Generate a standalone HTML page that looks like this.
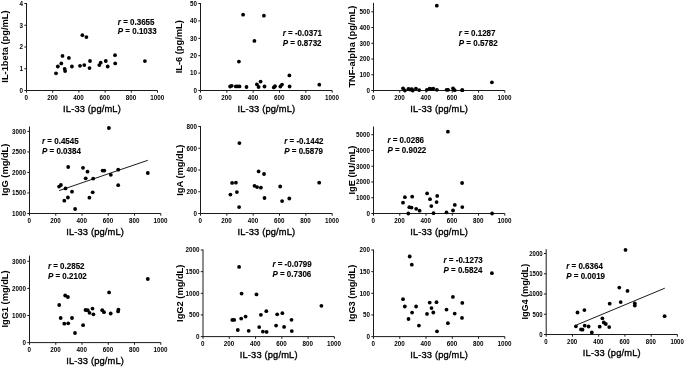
<!DOCTYPE html>
<html><head><meta charset="utf-8"><title>Correlation plots</title>
<style>
html,body{margin:0;padding:0;background:#fff;width:685px;height:367px;overflow:hidden}
svg{display:block;will-change:transform}
text{font-family:"Liberation Sans",sans-serif;fill:#000}
.ax{fill:none;stroke:#1a1a1a;stroke-width:1}
.tk{fill:none;stroke:#1a1a1a;stroke-width:1}
.rl{fill:none;stroke:#000;stroke-width:0.9}
.yt{font-size:6.3px;font-weight:bold;text-anchor:end}
.xt{font-size:6.3px;font-weight:bold;text-anchor:middle}
.xl{font-size:9.3px;text-anchor:middle;stroke:#000;stroke-width:0.35px;letter-spacing:0.16px}
.yl{font-size:9.3px;font-weight:bold;text-anchor:middle}
.an{font-size:8.0px;font-weight:bold;stroke:#000;stroke-width:0.12px}
.it{font-style:italic}
.pt{fill:#000}
</style></head>
<body><svg width="685" height="367" viewBox="0 0 685 367">
<path d="M26.5 3V90.5H157.5" class="ax"/>
<text transform="translate(22.9 92.85) scale(1 1.04)" class="yt">0</text>
<text transform="translate(22.9 71.1) scale(1 1.04)" class="yt">1</text>
<text transform="translate(22.9 49.35) scale(1 1.04)" class="yt">2</text>
<text transform="translate(22.9 27.6) scale(1 1.04)" class="yt">3</text>
<text transform="translate(22.9 5.85) scale(1 1.04)" class="yt">4</text>
<text transform="translate(26.2 99.9) scale(1 1.04)" class="xt">0</text>
<text transform="translate(52.4 99.9) scale(1 1.04)" class="xt">200</text>
<text transform="translate(78.6 99.9) scale(1 1.04)" class="xt">400</text>
<text transform="translate(104.8 99.9) scale(1 1.04)" class="xt">600</text>
<text transform="translate(131 99.9) scale(1 1.04)" class="xt">800</text>
<text transform="translate(157.2 99.9) scale(1 1.04)" class="xt">1000</text>
<path d="M24.3 90.5H26.5M24.3 68.75H26.5M24.3 47H26.5M24.3 25.25H26.5M24.3 3.5H26.5M26.5 90.5V92.7M52.7 90.5V92.7M78.9 90.5V92.7M105.1 90.5V92.7M131.3 90.5V92.7M157.5 90.5V92.7" class="tk"/>
<text transform="translate(92 111.9) scale(1 1.03)" class="xl">IL-33 (pg/mL)</text>
<text transform="translate(7.8 46.6) rotate(-90) scale(1 1.04)" class="yl">IL-1beta (pg/mL)</text>
<text transform="translate(117.8 25) scale(1 1.08)" class="an"><tspan class="it">r</tspan> = 0.3655</text>
<text transform="translate(117.8 34) scale(1 1.08)" class="an"><tspan class="it">P</tspan> = 0.1033</text>
<g class="pt"><circle cx="56" cy="73.3" r="1.9"/><circle cx="57.8" cy="66.5" r="1.9"/><circle cx="61.3" cy="63.4" r="1.9"/><circle cx="62.5" cy="55.9" r="1.9"/><circle cx="64.7" cy="68.8" r="1.9"/><circle cx="65.1" cy="71.1" r="1.9"/><circle cx="68.9" cy="57.9" r="1.9"/><circle cx="71.9" cy="66.5" r="1.9"/><circle cx="80" cy="65.8" r="1.9"/><circle cx="82.4" cy="35.2" r="1.9"/><circle cx="84.3" cy="65.1" r="1.9"/><circle cx="86.4" cy="37.1" r="1.9"/><circle cx="89.5" cy="68.1" r="1.9"/><circle cx="90" cy="61" r="1.9"/><circle cx="99.3" cy="65.1" r="1.9"/><circle cx="100.7" cy="62.7" r="1.9"/><circle cx="105.8" cy="61" r="1.9"/><circle cx="107.7" cy="66.5" r="1.9"/><circle cx="115" cy="55.2" r="1.9"/><circle cx="115.2" cy="63.4" r="1.9"/><circle cx="144.9" cy="61.1" r="1.9"/></g>
<path d="M200.5 3V90.5H332.2" class="ax"/>
<text transform="translate(196.9 92.85) scale(1 1.04)" class="yt">0</text>
<text transform="translate(196.9 75.45) scale(1 1.04)" class="yt">10</text>
<text transform="translate(196.9 58.05) scale(1 1.04)" class="yt">20</text>
<text transform="translate(196.9 40.65) scale(1 1.04)" class="yt">30</text>
<text transform="translate(196.9 23.25) scale(1 1.04)" class="yt">40</text>
<text transform="translate(196.9 5.85) scale(1 1.04)" class="yt">50</text>
<text transform="translate(200.2 99.9) scale(1 1.04)" class="xt">0</text>
<text transform="translate(226.54 99.9) scale(1 1.04)" class="xt">200</text>
<text transform="translate(252.88 99.9) scale(1 1.04)" class="xt">400</text>
<text transform="translate(279.22 99.9) scale(1 1.04)" class="xt">600</text>
<text transform="translate(305.56 99.9) scale(1 1.04)" class="xt">800</text>
<text transform="translate(331.9 99.9) scale(1 1.04)" class="xt">1000</text>
<path d="M198.3 90.5H200.5M198.3 73.1H200.5M198.3 55.7H200.5M198.3 38.3H200.5M198.3 20.9H200.5M198.3 3.5H200.5M200.5 90.5V92.7M226.84 90.5V92.7M253.18 90.5V92.7M279.52 90.5V92.7M305.86 90.5V92.7M332.2 90.5V92.7" class="tk"/>
<text transform="translate(266.35 111.9) scale(1 1.03)" class="xl">IL-33 (pg/mL)</text>
<text transform="translate(182.4 46.8) rotate(-90) scale(1 1.04)" class="yl">IL-6 (pg/mL)</text>
<text transform="translate(282.7 36) scale(1 1.08)" class="an"><tspan class="it">r</tspan> = -0.0371</text>
<text transform="translate(282.7 46) scale(1 1.08)" class="an"><tspan class="it">P</tspan> = 0.8732</text>
<g class="pt"><circle cx="230.1" cy="86.5" r="1.9"/><circle cx="231.7" cy="85.8" r="1.9"/><circle cx="235.8" cy="86.4" r="1.9"/><circle cx="237.6" cy="86.4" r="1.9"/><circle cx="239.5" cy="86.4" r="1.9"/><circle cx="238.9" cy="61.6" r="1.9"/><circle cx="243.1" cy="14.7" r="1.9"/><circle cx="246.5" cy="87" r="1.9"/><circle cx="254.4" cy="40.9" r="1.9"/><circle cx="256.9" cy="84.3" r="1.9"/><circle cx="258.6" cy="87" r="1.9"/><circle cx="260.6" cy="81.6" r="1.9"/><circle cx="263.9" cy="15.7" r="1.9"/><circle cx="264.5" cy="86.5" r="1.9"/><circle cx="273.8" cy="87.4" r="1.9"/><circle cx="275" cy="86.2" r="1.9"/><circle cx="280.4" cy="86.5" r="1.9"/><circle cx="282" cy="84.6" r="1.9"/><circle cx="289.4" cy="75.4" r="1.9"/><circle cx="289.6" cy="86.5" r="1.9"/><circle cx="319.3" cy="84.7" r="1.9"/></g>
<path d="M373.5 2.9V90.5H504.8" class="ax"/>
<text transform="translate(369.9 92.85) scale(1 1.04)" class="yt">0</text>
<text transform="translate(369.9 77.11) scale(1 1.04)" class="yt">100</text>
<text transform="translate(369.9 61.37) scale(1 1.04)" class="yt">200</text>
<text transform="translate(369.9 45.63) scale(1 1.04)" class="yt">300</text>
<text transform="translate(369.9 29.89) scale(1 1.04)" class="yt">400</text>
<text transform="translate(369.9 14.15) scale(1 1.04)" class="yt">500</text>
<text transform="translate(373.2 99.9) scale(1 1.04)" class="xt">0</text>
<text transform="translate(399.46 99.9) scale(1 1.04)" class="xt">200</text>
<text transform="translate(425.72 99.9) scale(1 1.04)" class="xt">400</text>
<text transform="translate(451.98 99.9) scale(1 1.04)" class="xt">600</text>
<text transform="translate(478.24 99.9) scale(1 1.04)" class="xt">800</text>
<text transform="translate(504.5 99.9) scale(1 1.04)" class="xt">1000</text>
<path d="M371.3 90.5H373.5M371.3 74.76H373.5M371.3 59.02H373.5M371.3 43.28H373.5M371.3 27.54H373.5M371.3 11.8H373.5M373.5 90.5V92.7M399.76 90.5V92.7M426.02 90.5V92.7M452.28 90.5V92.7M478.54 90.5V92.7M504.8 90.5V92.7" class="tk"/>
<text transform="translate(439.15 111.9) scale(1 1.03)" class="xl">IL-33 (pg/mL)</text>
<text transform="translate(355.2 46.6) rotate(-90) scale(1 1.04)" class="yl">TNF-alpha (pg/mL)</text>
<text transform="translate(458.8 36) scale(1 1.08)" class="an"><tspan class="it">r</tspan> = 0.1287</text>
<text transform="translate(458.8 46) scale(1 1.08)" class="an"><tspan class="it">P</tspan> = 0.5782</text>
<g class="pt"><circle cx="403" cy="88.3" r="1.9"/><circle cx="404.9" cy="90.5" r="1.9"/><circle cx="408.4" cy="88.9" r="1.9"/><circle cx="410" cy="89.5" r="1.9"/><circle cx="411.9" cy="89.2" r="1.9"/><circle cx="412.7" cy="90.5" r="1.9"/><circle cx="415.9" cy="88.6" r="1.9"/><circle cx="419.2" cy="90.1" r="1.9"/><circle cx="426.9" cy="89.8" r="1.9"/><circle cx="429.6" cy="88.6" r="1.9"/><circle cx="431.4" cy="89.2" r="1.9"/><circle cx="433.3" cy="88.6" r="1.9"/><circle cx="436.8" cy="5.7" r="1.9"/><circle cx="436.9" cy="89.8" r="1.9"/><circle cx="446.6" cy="89.8" r="1.9"/><circle cx="448.1" cy="89.8" r="1.9"/><circle cx="453" cy="88.3" r="1.9"/><circle cx="454.7" cy="90.2" r="1.9"/><circle cx="462.1" cy="90.2" r="1.9"/><circle cx="462.4" cy="90.2" r="1.9"/><circle cx="491.9" cy="82.3" r="1.9"/></g>
<path d="M29.5 126.5V213.5H160.8" class="ax"/>
<text transform="translate(25.9 215.85) scale(1 1.04)" class="yt">1000</text>
<text transform="translate(25.9 195.32) scale(1 1.04)" class="yt">1500</text>
<text transform="translate(25.9 174.8) scale(1 1.04)" class="yt">2000</text>
<text transform="translate(25.9 154.28) scale(1 1.04)" class="yt">2500</text>
<text transform="translate(25.9 133.75) scale(1 1.04)" class="yt">3000</text>
<text transform="translate(29.2 222.9) scale(1 1.04)" class="xt">0</text>
<text transform="translate(55.46 222.9) scale(1 1.04)" class="xt">200</text>
<text transform="translate(81.72 222.9) scale(1 1.04)" class="xt">400</text>
<text transform="translate(107.98 222.9) scale(1 1.04)" class="xt">600</text>
<text transform="translate(134.24 222.9) scale(1 1.04)" class="xt">800</text>
<text transform="translate(160.5 222.9) scale(1 1.04)" class="xt">1000</text>
<path d="M27.3 213.5H29.5M27.3 192.97H29.5M27.3 172.45H29.5M27.3 151.93H29.5M27.3 131.4H29.5M29.5 213.5V215.7M55.76 213.5V215.7M82.02 213.5V215.7M108.28 213.5V215.7M134.54 213.5V215.7M160.8 213.5V215.7" class="tk"/>
<text transform="translate(95.15 234.9) scale(1 1.03)" class="xl">IL-33 (pg/mL)</text>
<text transform="translate(7.7 169.7) rotate(-90) scale(1 1.04)" class="yl">IgG (mg/dL)</text>
<text transform="translate(42 144) scale(1 1.08)" class="an"><tspan class="it">r</tspan> = 0.4545</text>
<text transform="translate(42 154) scale(1 1.08)" class="an"><tspan class="it">P</tspan> = 0.0384</text>
<path d="M59.2 190.6L147.8 160.3" class="rl"/>
<g class="pt"><circle cx="59.1" cy="186.6" r="1.9"/><circle cx="60.9" cy="185" r="1.9"/><circle cx="64.3" cy="200.7" r="1.9"/><circle cx="65.5" cy="188.4" r="1.9"/><circle cx="67.9" cy="197.5" r="1.9"/><circle cx="68.2" cy="167" r="1.9"/><circle cx="72" cy="191.7" r="1.9"/><circle cx="75.1" cy="209" r="1.9"/><circle cx="83" cy="167.8" r="1.9"/><circle cx="85.7" cy="178.3" r="1.9"/><circle cx="87.5" cy="171.7" r="1.9"/><circle cx="89.4" cy="197.7" r="1.9"/><circle cx="92.7" cy="192.3" r="1.9"/><circle cx="93.2" cy="178.6" r="1.9"/><circle cx="102.6" cy="170.6" r="1.9"/><circle cx="104.3" cy="170.6" r="1.9"/><circle cx="108.9" cy="128" r="1.9"/><circle cx="110.8" cy="174.8" r="1.9"/><circle cx="118.2" cy="169.7" r="1.9"/><circle cx="118.2" cy="185.2" r="1.9"/><circle cx="147.8" cy="173" r="1.9"/></g>
<path d="M200.5 126V213.5H332.2" class="ax"/>
<text transform="translate(196.9 215.85) scale(1 1.04)" class="yt">0</text>
<text transform="translate(196.9 194.1) scale(1 1.04)" class="yt">200</text>
<text transform="translate(196.9 172.35) scale(1 1.04)" class="yt">400</text>
<text transform="translate(196.9 150.6) scale(1 1.04)" class="yt">600</text>
<text transform="translate(196.9 128.85) scale(1 1.04)" class="yt">800</text>
<text transform="translate(200.2 222.9) scale(1 1.04)" class="xt">0</text>
<text transform="translate(226.54 222.9) scale(1 1.04)" class="xt">200</text>
<text transform="translate(252.88 222.9) scale(1 1.04)" class="xt">400</text>
<text transform="translate(279.22 222.9) scale(1 1.04)" class="xt">600</text>
<text transform="translate(305.56 222.9) scale(1 1.04)" class="xt">800</text>
<text transform="translate(331.9 222.9) scale(1 1.04)" class="xt">1000</text>
<path d="M198.3 213.5H200.5M198.3 191.75H200.5M198.3 170H200.5M198.3 148.25H200.5M198.3 126.5H200.5M200.5 213.5V215.7M226.84 213.5V215.7M253.18 213.5V215.7M279.52 213.5V215.7M305.86 213.5V215.7M332.2 213.5V215.7" class="tk"/>
<text transform="translate(266.35 234.9) scale(1 1.03)" class="xl">IL-33 (pg/mL)</text>
<text transform="translate(182.5 170.2) rotate(-90) scale(1 1.04)" class="yl">IgA (mg/dL)</text>
<text transform="translate(284.2 144) scale(1 1.08)" class="an"><tspan class="it">r</tspan> = -0.1442</text>
<text transform="translate(284.2 154) scale(1 1.08)" class="an"><tspan class="it">P</tspan> = 0.5879</text>
<g class="pt"><circle cx="230.4" cy="194.6" r="1.9"/><circle cx="232.1" cy="182.9" r="1.9"/><circle cx="235.9" cy="182.7" r="1.9"/><circle cx="236.9" cy="192.1" r="1.9"/><circle cx="239.1" cy="207.1" r="1.9"/><circle cx="239.4" cy="143.1" r="1.9"/><circle cx="254.5" cy="185.8" r="1.9"/><circle cx="257.1" cy="187.1" r="1.9"/><circle cx="258.6" cy="171.4" r="1.9"/><circle cx="260.9" cy="187.7" r="1.9"/><circle cx="264" cy="174" r="1.9"/><circle cx="264.5" cy="198" r="1.9"/><circle cx="280.2" cy="186.5" r="1.9"/><circle cx="282.1" cy="201.1" r="1.9"/><circle cx="289.3" cy="198.5" r="1.9"/><circle cx="319.2" cy="182.7" r="1.9"/></g>
<path d="M373.5 126.5V213.5H504.8" class="ax"/>
<text transform="translate(369.9 215.85) scale(1 1.04)" class="yt">0</text>
<text transform="translate(369.9 200.09) scale(1 1.04)" class="yt">1000</text>
<text transform="translate(369.9 184.33) scale(1 1.04)" class="yt">2000</text>
<text transform="translate(369.9 168.57) scale(1 1.04)" class="yt">3000</text>
<text transform="translate(369.9 152.81) scale(1 1.04)" class="yt">4000</text>
<text transform="translate(369.9 137.05) scale(1 1.04)" class="yt">5000</text>
<text transform="translate(373.2 222.9) scale(1 1.04)" class="xt">0</text>
<text transform="translate(399.46 222.9) scale(1 1.04)" class="xt">200</text>
<text transform="translate(425.72 222.9) scale(1 1.04)" class="xt">400</text>
<text transform="translate(451.98 222.9) scale(1 1.04)" class="xt">600</text>
<text transform="translate(478.24 222.9) scale(1 1.04)" class="xt">800</text>
<text transform="translate(504.5 222.9) scale(1 1.04)" class="xt">1000</text>
<path d="M371.3 213.5H373.5M371.3 197.74H373.5M371.3 181.98H373.5M371.3 166.22H373.5M371.3 150.46H373.5M371.3 134.7H373.5M373.5 213.5V215.7M399.76 213.5V215.7M426.02 213.5V215.7M452.28 213.5V215.7M478.54 213.5V215.7M504.8 213.5V215.7" class="tk"/>
<text transform="translate(439.15 234.9) scale(1 1.03)" class="xl">IL-33 (pg/mL)</text>
<text transform="translate(354.8 170.1) rotate(-90) scale(1 1.04)" class="yl">IgE (IU/mL)</text>
<text transform="translate(387.4 143) scale(1 1.08)" class="an"><tspan class="it">r</tspan> = 0.0286</text>
<text transform="translate(387.4 153) scale(1 1.08)" class="an"><tspan class="it">P</tspan> = 0.9022</text>
<g class="pt"><circle cx="403" cy="202.7" r="1.9"/><circle cx="404.9" cy="197.2" r="1.9"/><circle cx="408.3" cy="213.5" r="1.9"/><circle cx="409.3" cy="207.2" r="1.9"/><circle cx="411.5" cy="207.6" r="1.9"/><circle cx="412.2" cy="196.7" r="1.9"/><circle cx="416.2" cy="208.8" r="1.9"/><circle cx="419.6" cy="210.7" r="1.9"/><circle cx="427.1" cy="193.4" r="1.9"/><circle cx="430" cy="199.2" r="1.9"/><circle cx="431.3" cy="206.1" r="1.9"/><circle cx="433.5" cy="213.2" r="1.9"/><circle cx="436.6" cy="202.1" r="1.9"/><circle cx="437.2" cy="195.9" r="1.9"/><circle cx="446.5" cy="212.4" r="1.9"/><circle cx="447.9" cy="131.7" r="1.9"/><circle cx="453" cy="210.5" r="1.9"/><circle cx="454.8" cy="204.9" r="1.9"/><circle cx="462.1" cy="183" r="1.9"/><circle cx="462.3" cy="207.1" r="1.9"/><circle cx="492.1" cy="213.5" r="1.9"/></g>
<path d="M29.5 255.6V342.6H160.8" class="ax"/>
<text transform="translate(25.9 344.95) scale(1 1.04)" class="yt">0</text>
<text transform="translate(25.9 317.85) scale(1 1.04)" class="yt">1000</text>
<text transform="translate(25.9 290.75) scale(1 1.04)" class="yt">2000</text>
<text transform="translate(25.9 263.65) scale(1 1.04)" class="yt">3000</text>
<text transform="translate(29.2 352) scale(1 1.04)" class="xt">0</text>
<text transform="translate(55.46 352) scale(1 1.04)" class="xt">200</text>
<text transform="translate(81.72 352) scale(1 1.04)" class="xt">400</text>
<text transform="translate(107.98 352) scale(1 1.04)" class="xt">600</text>
<text transform="translate(134.24 352) scale(1 1.04)" class="xt">800</text>
<text transform="translate(160.5 352) scale(1 1.04)" class="xt">1000</text>
<path d="M27.3 342.6H29.5M27.3 315.5H29.5M27.3 288.4H29.5M27.3 261.3H29.5M29.5 342.6V344.8M55.76 342.6V344.8M82.02 342.6V344.8M108.28 342.6V344.8M134.54 342.6V344.8M160.8 342.6V344.8" class="tk"/>
<text transform="translate(95.15 364) scale(1 1.03)" class="xl">IL-33 (pg/mL)</text>
<text transform="translate(8 299) rotate(-90) scale(1 1.04)" class="yl">IgG1 (mg/dL)</text>
<text transform="translate(47.9 269) scale(1 1.08)" class="an"><tspan class="it">r</tspan> = 0.2852</text>
<text transform="translate(47.9 279) scale(1 1.08)" class="an"><tspan class="it">P</tspan> = 0.2102</text>
<g class="pt"><circle cx="59.2" cy="305" r="1.9"/><circle cx="60.7" cy="318" r="1.9"/><circle cx="64.3" cy="323.7" r="1.9"/><circle cx="65.2" cy="295.5" r="1.9"/><circle cx="67.9" cy="297" r="1.9"/><circle cx="68.2" cy="323.3" r="1.9"/><circle cx="72" cy="318" r="1.9"/><circle cx="75" cy="333" r="1.9"/><circle cx="83.1" cy="325.2" r="1.9"/><circle cx="85.5" cy="310" r="1.9"/><circle cx="87.7" cy="310.2" r="1.9"/><circle cx="89.5" cy="312.8" r="1.9"/><circle cx="92.5" cy="308.6" r="1.9"/><circle cx="93.4" cy="314.3" r="1.9"/><circle cx="102.2" cy="310.2" r="1.9"/><circle cx="104" cy="312.2" r="1.9"/><circle cx="109.1" cy="292.4" r="1.9"/><circle cx="110.7" cy="313.5" r="1.9"/><circle cx="118.1" cy="311.4" r="1.9"/><circle cx="118.4" cy="309.6" r="1.9"/><circle cx="147.8" cy="279" r="1.9"/></g>
<path d="M203 249.5V336.6H334.4" class="ax"/>
<text transform="translate(199.4 338.95) scale(1 1.04)" class="yt">0</text>
<text transform="translate(199.4 317.3) scale(1 1.04)" class="yt">500</text>
<text transform="translate(199.4 295.65) scale(1 1.04)" class="yt">1000</text>
<text transform="translate(199.4 274) scale(1 1.04)" class="yt">1500</text>
<text transform="translate(199.4 252.35) scale(1 1.04)" class="yt">2000</text>
<text transform="translate(202.7 346) scale(1 1.04)" class="xt">0</text>
<text transform="translate(228.98 346) scale(1 1.04)" class="xt">200</text>
<text transform="translate(255.26 346) scale(1 1.04)" class="xt">400</text>
<text transform="translate(281.54 346) scale(1 1.04)" class="xt">600</text>
<text transform="translate(307.82 346) scale(1 1.04)" class="xt">800</text>
<text transform="translate(334.1 346) scale(1 1.04)" class="xt">1000</text>
<path d="M200.8 336.6H203M200.8 314.95H203M200.8 293.3H203M200.8 271.65H203M200.8 250H203M203 336.6V338.8M229.28 336.6V338.8M255.56 336.6V338.8M281.84 336.6V338.8M308.12 336.6V338.8M334.4 336.6V338.8" class="tk"/>
<text transform="translate(268.7 358) scale(1 1.03)" class="xl">IL-33 (pg/mL)</text>
<text transform="translate(182.5 293.3) rotate(-90) scale(1 1.04)" class="yl">IgG2 (mg/dL)</text>
<text transform="translate(272.4 267) scale(1 1.08)" class="an"><tspan class="it">r</tspan> = -0.0799</text>
<text transform="translate(272.4 277) scale(1 1.08)" class="an"><tspan class="it">P</tspan> = 0.7306</text>
<g class="pt"><circle cx="232.3" cy="319.9" r="1.9"/><circle cx="234.2" cy="319.9" r="1.9"/><circle cx="237.8" cy="330" r="1.9"/><circle cx="239.1" cy="266.9" r="1.9"/><circle cx="241.2" cy="318.6" r="1.9"/><circle cx="241.6" cy="293.6" r="1.9"/><circle cx="245.6" cy="316.6" r="1.9"/><circle cx="248.7" cy="330.8" r="1.9"/><circle cx="256.5" cy="294.4" r="1.9"/><circle cx="259.2" cy="327.1" r="1.9"/><circle cx="260.9" cy="314.8" r="1.9"/><circle cx="262.9" cy="331.6" r="1.9"/><circle cx="266.3" cy="311.2" r="1.9"/><circle cx="266.6" cy="331.9" r="1.9"/><circle cx="276.1" cy="325.6" r="1.9"/><circle cx="277.2" cy="314.3" r="1.9"/><circle cx="282.4" cy="313.2" r="1.9"/><circle cx="284.1" cy="326.9" r="1.9"/><circle cx="291.5" cy="319.8" r="1.9"/><circle cx="291.8" cy="331.1" r="1.9"/><circle cx="321.4" cy="305.8" r="1.9"/></g>
<path d="M373.5 249.5V336.6H504.8" class="ax"/>
<text transform="translate(369.9 338.95) scale(1 1.04)" class="yt">0</text>
<text transform="translate(369.9 317.3) scale(1 1.04)" class="yt">50</text>
<text transform="translate(369.9 295.65) scale(1 1.04)" class="yt">100</text>
<text transform="translate(369.9 274) scale(1 1.04)" class="yt">150</text>
<text transform="translate(369.9 252.35) scale(1 1.04)" class="yt">200</text>
<text transform="translate(373.2 346) scale(1 1.04)" class="xt">0</text>
<text transform="translate(399.46 346) scale(1 1.04)" class="xt">200</text>
<text transform="translate(425.72 346) scale(1 1.04)" class="xt">400</text>
<text transform="translate(451.98 346) scale(1 1.04)" class="xt">600</text>
<text transform="translate(478.24 346) scale(1 1.04)" class="xt">800</text>
<text transform="translate(504.5 346) scale(1 1.04)" class="xt">1000</text>
<path d="M371.3 336.6H373.5M371.3 314.95H373.5M371.3 293.3H373.5M371.3 271.65H373.5M371.3 250H373.5M373.5 336.6V338.8M399.76 336.6V338.8M426.02 336.6V338.8M452.28 336.6V338.8M478.54 336.6V338.8M504.8 336.6V338.8" class="tk"/>
<text transform="translate(439.15 358) scale(1 1.03)" class="xl">IL-33 (pg/mL)</text>
<text transform="translate(355.3 293.25) rotate(-90) scale(1 1.04)" class="yl">IgG3 (mg/dL)</text>
<text transform="translate(443.5 263) scale(1 1.08)" class="an"><tspan class="it">r</tspan> = -0.1273</text>
<text transform="translate(443.5 273) scale(1 1.08)" class="an"><tspan class="it">P</tspan> = 0.5824</text>
<g class="pt"><circle cx="403" cy="299.2" r="1.9"/><circle cx="404.8" cy="306.5" r="1.9"/><circle cx="408.5" cy="319" r="1.9"/><circle cx="409.7" cy="256.5" r="1.9"/><circle cx="411.8" cy="264.7" r="1.9"/><circle cx="412.1" cy="312.6" r="1.9"/><circle cx="416.1" cy="306.5" r="1.9"/><circle cx="418.9" cy="325.6" r="1.9"/><circle cx="427" cy="313.9" r="1.9"/><circle cx="429.7" cy="302.6" r="1.9"/><circle cx="431.5" cy="308.1" r="1.9"/><circle cx="433.3" cy="312.5" r="1.9"/><circle cx="436.5" cy="302.2" r="1.9"/><circle cx="437" cy="331.3" r="1.9"/><circle cx="446.5" cy="309.6" r="1.9"/><circle cx="447.9" cy="323.2" r="1.9"/><circle cx="452.9" cy="296.9" r="1.9"/><circle cx="454.7" cy="313.6" r="1.9"/><circle cx="462" cy="317.9" r="1.9"/><circle cx="462.3" cy="302.9" r="1.9"/><circle cx="491.9" cy="273.2" r="1.9"/></g>
<path d="M546.2 249.2V334.5H677.4" class="ax"/>
<text transform="translate(542.6 336.85) scale(0.96 0.9984)" class="yt">0</text>
<text transform="translate(542.6 316.6) scale(0.96 0.9984)" class="yt">500</text>
<text transform="translate(542.6 296.35) scale(0.96 0.9984)" class="yt">1000</text>
<text transform="translate(542.6 276.1) scale(0.96 0.9984)" class="yt">1500</text>
<text transform="translate(542.6 255.85) scale(0.96 0.9984)" class="yt">2000</text>
<text transform="translate(545.9 343.9) scale(0.96 0.9984)" class="xt">0</text>
<text transform="translate(572.14 343.9) scale(0.96 0.9984)" class="xt">200</text>
<text transform="translate(598.38 343.9) scale(0.96 0.9984)" class="xt">400</text>
<text transform="translate(624.62 343.9) scale(0.96 0.9984)" class="xt">600</text>
<text transform="translate(650.86 343.9) scale(0.96 0.9984)" class="xt">800</text>
<text transform="translate(677.1 343.9) scale(0.96 0.9984)" class="xt">1000</text>
<path d="M544 334.5H546.2M544 314.25H546.2M544 294H546.2M544 273.75H546.2M544 253.5H546.2M546.2 334.5V336.7M572.44 334.5V336.7M598.68 334.5V336.7M624.92 334.5V336.7M651.16 334.5V336.7M677.4 334.5V336.7" class="tk"/>
<text transform="translate(611.8 355.9) scale(1 1.03)" class="xl">IL-33 (pg/mL)</text>
<text transform="translate(527.9 291.65) rotate(-90) scale(0.975 1.014)" class="yl">IgG4 (mg/dL)</text>
<text transform="translate(566.2 269) scale(1 1.08)" class="an"><tspan class="it">r</tspan> = 0.6364</text>
<text transform="translate(566.2 279) scale(1 1.08)" class="an"><tspan class="it">P</tspan> = 0.0019</text>
<path d="M576.3 325.1L664.8 288.2" class="rl"/>
<g class="pt"><circle cx="575.9" cy="326.3" r="1.9"/><circle cx="577.5" cy="312.5" r="1.9"/><circle cx="581" cy="329.4" r="1.9"/><circle cx="582.5" cy="329.7" r="1.9"/><circle cx="584.4" cy="310.1" r="1.9"/><circle cx="584.7" cy="325.7" r="1.9"/><circle cx="588.6" cy="326.5" r="1.9"/><circle cx="591.8" cy="332.5" r="1.9"/><circle cx="599.7" cy="326.7" r="1.9"/><circle cx="602.4" cy="318.3" r="1.9"/><circle cx="603.8" cy="322.5" r="1.9"/><circle cx="605.8" cy="324" r="1.9"/><circle cx="609.2" cy="327.1" r="1.9"/><circle cx="609.7" cy="303.7" r="1.9"/><circle cx="619.3" cy="287.6" r="1.9"/><circle cx="620.7" cy="302.1" r="1.9"/><circle cx="625.5" cy="249.9" r="1.9"/><circle cx="627.5" cy="290.9" r="1.9"/><circle cx="634.8" cy="303.4" r="1.9"/><circle cx="634.8" cy="305.6" r="1.9"/><circle cx="664.6" cy="316.2" r="1.9"/></g>
</svg></body></html>
